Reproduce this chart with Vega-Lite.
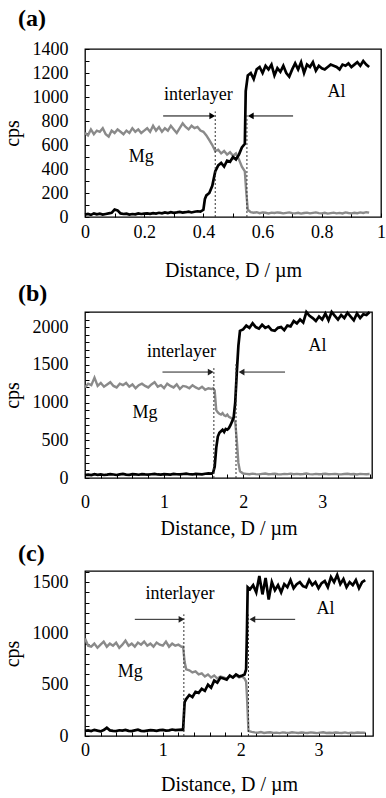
{
  "$schema": "https://vega.github.io/schema/vega-lite/v6.json",
  "background": "white",
  "padding": {"left": 1, "top": 6, "right": 0, "bottom": 0},
  "spacing": 0,
  "config": {
    "font": "Liberation Serif",
    "view": {"stroke": "black", "strokeWidth": 1.3},
    "axis": {
      "domain": false, "grid": false, "tickSize": -4, "tickColor": "black", "tickWidth": 1,
      "labelColor": "black", "labelFont": "Liberation Serif", "labelFontSize": 18,
      "titleFont": "Liberation Serif", "titleFontSize": 20, "titleFontWeight": "normal", "titleColor": "black",
      "labelOverlap": false, "labelSeparation": -100, "labelFlush": false, "labelPadding": 10
    },
    "axisQuantitative": {"labelOverlap": false, "labelSeparation": -100},
    "title": {"font": "Liberation Serif", "fontSize": 24, "fontWeight": "bold", "color": "black", "anchor": "start", "frame": "bounds"}
  },
  "datasets": {
    "aAl": [
      {"x":0,"y":20},{"x":0.01,"y":25},{"x":0.02,"y":18},{"x":0.03,"y":30},{"x":0.04,"y":22},{"x":0.05,"y":28},{"x":0.06,"y":20},{"x":0.07,"y":25},{"x":0.08,"y":30},{"x":0.09,"y":35},{"x":0.1,"y":62},{"x":0.11,"y":55},{"x":0.12,"y":30},{"x":0.13,"y":25},{"x":0.14,"y":28},{"x":0.15,"y":20},{"x":0.16,"y":25},{"x":0.17,"y":22},{"x":0.18,"y":30},{"x":0.19,"y":25},{"x":0.2,"y":28},{"x":0.21,"y":30},{"x":0.22,"y":26},{"x":0.23,"y":32},{"x":0.24,"y":28},{"x":0.25,"y":35},{"x":0.26,"y":30},{"x":0.27,"y":38},{"x":0.28,"y":33},{"x":0.29,"y":40},{"x":0.3,"y":35},{"x":0.31,"y":38},{"x":0.32,"y":42},{"x":0.33,"y":36},{"x":0.34,"y":40},{"x":0.35,"y":45},{"x":0.36,"y":38},{"x":0.37,"y":44},{"x":0.38,"y":48},{"x":0.39,"y":45},{"x":0.4,"y":60},{"x":0.405,"y":150},{"x":0.41,"y":180},{"x":0.42,"y":200},{"x":0.43,"y":260},{"x":0.44,"y":380},{"x":0.45,"y":430},{"x":0.46,"y":450},{"x":0.47,"y":420},{"x":0.48,"y":470},{"x":0.49,"y":460},{"x":0.5,"y":500},{"x":0.51,"y":480},{"x":0.52,"y":520},{"x":0.53,"y":580},{"x":0.54,"y":610},{"x":0.543,"y":1050},{"x":0.55,"y":1180},{"x":0.56,"y":1200},{"x":0.57,"y":1150},{"x":0.58,"y":1230},{"x":0.59,"y":1250},{"x":0.6,"y":1200},{"x":0.61,"y":1260},{"x":0.62,"y":1230},{"x":0.63,"y":1270},{"x":0.64,"y":1180},{"x":0.65,"y":1240},{"x":0.66,"y":1210},{"x":0.67,"y":1260},{"x":0.68,"y":1200},{"x":0.69,"y":1170},{"x":0.7,"y":1230},{"x":0.71,"y":1280},{"x":0.72,"y":1230},{"x":0.73,"y":1290},{"x":0.74,"y":1200},{"x":0.75,"y":1270},{"x":0.76,"y":1250},{"x":0.77,"y":1290},{"x":0.78,"y":1220},{"x":0.79,"y":1260},{"x":0.8,"y":1240},{"x":0.81,"y":1230},{"x":0.82,"y":1250},{"x":0.83,"y":1270},{"x":0.84,"y":1260},{"x":0.85,"y":1250},{"x":0.86,"y":1230},{"x":0.87,"y":1270},{"x":0.88,"y":1260},{"x":0.89,"y":1280},{"x":0.9,"y":1250},{"x":0.91,"y":1270},{"x":0.92,"y":1290},{"x":0.93,"y":1260},{"x":0.94,"y":1300},{"x":0.95,"y":1270},{"x":0.96,"y":1250}
    ],
    "aMg": [
      {"x":0,"y":700},{"x":0.01,"y":680},{"x":0.02,"y":730},{"x":0.03,"y":690},{"x":0.04,"y":720},{"x":0.05,"y":710},{"x":0.06,"y":740},{"x":0.07,"y":690},{"x":0.08,"y":670},{"x":0.09,"y":720},{"x":0.1,"y":700},{"x":0.11,"y":730},{"x":0.12,"y":710},{"x":0.13,"y":690},{"x":0.14,"y":720},{"x":0.15,"y":700},{"x":0.16,"y":740},{"x":0.17,"y":710},{"x":0.18,"y":730},{"x":0.19,"y":700},{"x":0.2,"y":720},{"x":0.21,"y":740},{"x":0.22,"y":710},{"x":0.23,"y":760},{"x":0.24,"y":720},{"x":0.25,"y":750},{"x":0.26,"y":710},{"x":0.27,"y":740},{"x":0.28,"y":720},{"x":0.29,"y":760},{"x":0.3,"y":730},{"x":0.31,"y":700},{"x":0.32,"y":740},{"x":0.33,"y":780},{"x":0.34,"y":750},{"x":0.35,"y":730},{"x":0.36,"y":760},{"x":0.37,"y":740},{"x":0.38,"y":750},{"x":0.39,"y":720},{"x":0.4,"y":710},{"x":0.41,"y":680},{"x":0.42,"y":640},{"x":0.43,"y":600},{"x":0.44,"y":550},{"x":0.45,"y":560},{"x":0.46,"y":530},{"x":0.47,"y":550},{"x":0.48,"y":520},{"x":0.49,"y":540},{"x":0.5,"y":510},{"x":0.51,"y":530},{"x":0.52,"y":480},{"x":0.53,"y":420},{"x":0.54,"y":380},{"x":0.545,"y":200},{"x":0.55,"y":60},{"x":0.56,"y":40},{"x":0.57,"y":35},{"x":0.58,"y":40},{"x":0.59,"y":32},{"x":0.6,"y":38},{"x":0.61,"y":35},{"x":0.62,"y":30},{"x":0.63,"y":36},{"x":0.64,"y":33},{"x":0.65,"y":38},{"x":0.66,"y":35},{"x":0.67,"y":30},{"x":0.68,"y":34},{"x":0.69,"y":38},{"x":0.7,"y":32},{"x":0.71,"y":30},{"x":0.72,"y":35},{"x":0.73,"y":28},{"x":0.74,"y":33},{"x":0.75,"y":36},{"x":0.76,"y":30},{"x":0.77,"y":34},{"x":0.78,"y":38},{"x":0.79,"y":32},{"x":0.8,"y":30},{"x":0.81,"y":35},{"x":0.82,"y":28},{"x":0.83,"y":32},{"x":0.84,"y":36},{"x":0.85,"y":30},{"x":0.86,"y":34},{"x":0.87,"y":30},{"x":0.88,"y":38},{"x":0.89,"y":33},{"x":0.9,"y":30},{"x":0.91,"y":35},{"x":0.92,"y":32},{"x":0.93,"y":38},{"x":0.94,"y":34},{"x":0.95,"y":40},{"x":0.96,"y":36}
    ],
    "bAl": [
      {"x":0,"y":40},{"x":0.04,"y":45},{"x":0.08,"y":38},{"x":0.12,"y":50},{"x":0.16,"y":42},{"x":0.2,"y":48},{"x":0.24,"y":40},{"x":0.28,"y":44},{"x":0.32,"y":52},{"x":0.36,"y":46},{"x":0.4,"y":40},{"x":0.44,"y":48},{"x":0.48,"y":55},{"x":0.52,"y":45},{"x":0.56,"y":42},{"x":0.6,"y":50},{"x":0.64,"y":47},{"x":0.68,"y":43},{"x":0.72,"y":52},{"x":0.76,"y":48},{"x":0.8,"y":45},{"x":0.84,"y":50},{"x":0.88,"y":55},{"x":0.92,"y":47},{"x":0.96,"y":44},{"x":1,"y":52},{"x":1.04,"y":49},{"x":1.08,"y":46},{"x":1.12,"y":54},{"x":1.16,"y":50},{"x":1.2,"y":48},{"x":1.24,"y":53},{"x":1.28,"y":57},{"x":1.32,"y":50},{"x":1.36,"y":47},{"x":1.4,"y":55},{"x":1.44,"y":52},{"x":1.48,"y":49},{"x":1.52,"y":56},{"x":1.56,"y":60},{"x":1.6,"y":58},
      {"x":1.62,"y":70},{"x":1.64,"y":150},{"x":1.66,"y":400},{"x":1.68,"y":550},{"x":1.7,"y":600},{"x":1.72,"y":620},{"x":1.74,"y":640},{"x":1.76,"y":610},{"x":1.78,"y":650},{"x":1.8,"y":640},{"x":1.82,"y":660},{"x":1.84,"y":700},{"x":1.86,"y":750},{"x":1.88,"y":800},{"x":1.9,"y":1000},{"x":1.92,"y":1400},{"x":1.94,"y":1750},{"x":1.96,"y":1950},{"x":2,"y":1970},{"x":2.04,"y":2020},{"x":2.08,"y":1990},{"x":2.12,"y":2050},{"x":2.16,"y":2000},{"x":2.2,"y":1980},{"x":2.24,"y":2030},{"x":2.28,"y":1990},{"x":2.32,"y":2010},{"x":2.36,"y":1960},{"x":2.4,"y":1950},{"x":2.44,"y":1990},{"x":2.48,"y":2000},{"x":2.52,"y":1960},{"x":2.56,"y":2020},{"x":2.6,"y":2010},{"x":2.64,"y":2080},{"x":2.68,"y":2050},{"x":2.72,"y":2100},{"x":2.76,"y":2060},{"x":2.8,"y":2200},{"x":2.84,"y":2150},{"x":2.88,"y":2120},{"x":2.92,"y":2080},{"x":2.96,"y":2140},{"x":3,"y":2100},{"x":3.04,"y":2180},{"x":3.08,"y":2090},{"x":3.12,"y":2200},{"x":3.16,"y":2150},{"x":3.2,"y":2100},{"x":3.24,"y":2160},{"x":3.28,"y":2120},{"x":3.32,"y":2190},{"x":3.36,"y":2140},{"x":3.4,"y":2090},{"x":3.44,"y":2180},{"x":3.48,"y":2120},{"x":3.52,"y":2170},{"x":3.56,"y":2160},{"x":3.6,"y":2200}
    ],
    "bMg": [
      {"x":0,"y":1200},{"x":0.04,"y":1250},{"x":0.08,"y":1230},{"x":0.12,"y":1330},{"x":0.16,"y":1220},{"x":0.2,"y":1260},{"x":0.24,"y":1210},{"x":0.28,"y":1240},{"x":0.32,"y":1270},{"x":0.36,"y":1220},{"x":0.4,"y":1200},{"x":0.44,"y":1250},{"x":0.48,"y":1230},{"x":0.52,"y":1260},{"x":0.56,"y":1210},{"x":0.6,"y":1240},{"x":0.64,"y":1190},{"x":0.68,"y":1230},{"x":0.72,"y":1250},{"x":0.76,"y":1220},{"x":0.8,"y":1200},{"x":0.84,"y":1240},{"x":0.88,"y":1270},{"x":0.92,"y":1210},{"x":0.96,"y":1230},{"x":1,"y":1190},{"x":1.04,"y":1250},{"x":1.08,"y":1220},{"x":1.12,"y":1200},{"x":1.16,"y":1240},{"x":1.2,"y":1180},{"x":1.24,"y":1220},{"x":1.28,"y":1210},{"x":1.32,"y":1190},{"x":1.36,"y":1230},{"x":1.4,"y":1200},{"x":1.44,"y":1180},{"x":1.48,"y":1210},{"x":1.52,"y":1170},{"x":1.56,"y":1190},{"x":1.6,"y":1180},
      {"x":1.62,"y":1190},{"x":1.64,"y":1160},{"x":1.66,"y":900},{"x":1.68,"y":870},{"x":1.7,"y":850},{"x":1.72,"y":840},{"x":1.74,"y":860},{"x":1.76,"y":830},{"x":1.78,"y":820},{"x":1.8,"y":840},{"x":1.82,"y":810},{"x":1.84,"y":800},{"x":1.86,"y":790},{"x":1.88,"y":770},{"x":1.9,"y":740},{"x":1.92,"y":500},{"x":1.94,"y":200},{"x":1.96,"y":90},{"x":2,"y":60},
      {"x":2.04,"y":55},{"x":2.08,"y":50},{"x":2.12,"y":58},{"x":2.16,"y":52},{"x":2.2,"y":48},{"x":2.24,"y":55},{"x":2.28,"y":60},{"x":2.32,"y":50},{"x":2.36,"y":53},{"x":2.4,"y":57},{"x":2.44,"y":50},{"x":2.48,"y":48},{"x":2.52,"y":55},{"x":2.56,"y":52},{"x":2.6,"y":58},{"x":2.64,"y":50},{"x":2.68,"y":54},{"x":2.72,"y":49},{"x":2.76,"y":53},{"x":2.8,"y":60},{"x":2.84,"y":52},{"x":2.88,"y":48},{"x":2.92,"y":55},{"x":2.96,"y":50},{"x":3,"y":53},{"x":3.04,"y":57},{"x":3.08,"y":49},{"x":3.12,"y":52},{"x":3.16,"y":55},{"x":3.2,"y":50},{"x":3.24,"y":48},{"x":3.28,"y":53},{"x":3.32,"y":56},{"x":3.36,"y":50},{"x":3.4,"y":52},{"x":3.44,"y":47},{"x":3.48,"y":55},{"x":3.52,"y":51},{"x":3.56,"y":49},{"x":3.6,"y":53}
    ],
    "cAl": [
      {"x":0,"y":50},{"x":0.04,"y":55},{"x":0.08,"y":48},{"x":0.12,"y":60},{"x":0.16,"y":52},{"x":0.2,"y":45},{"x":0.24,"y":58},{"x":0.28,"y":80},{"x":0.32,"y":55},{"x":0.36,"y":50},{"x":0.4,"y":48},{"x":0.44,"y":56},{"x":0.48,"y":52},{"x":0.52,"y":60},{"x":0.56,"y":50},{"x":0.6,"y":47},{"x":0.64,"y":55},{"x":0.68,"y":62},{"x":0.72,"y":50},{"x":0.76,"y":48},{"x":0.8,"y":53},{"x":0.84,"y":58},{"x":0.88,"y":55},{"x":0.92,"y":50},{"x":0.96,"y":57},{"x":1,"y":60},{"x":1.04,"y":52},{"x":1.08,"y":55},{"x":1.12,"y":63},{"x":1.16,"y":58},{"x":1.2,"y":60},{"x":1.24,"y":62},
      {"x":1.26,"y":60},{"x":1.28,"y":330},{"x":1.3,"y":360},{"x":1.34,"y":400},{"x":1.38,"y":380},{"x":1.42,"y":430},{"x":1.46,"y":420},{"x":1.5,"y":460},{"x":1.54,"y":440},{"x":1.58,"y":500},{"x":1.62,"y":470},{"x":1.66,"y":540},{"x":1.7,"y":520},{"x":1.74,"y":570},{"x":1.78,"y":560},{"x":1.82,"y":550},{"x":1.86,"y":590},{"x":1.9,"y":570},{"x":1.94,"y":600},{"x":1.98,"y":580},{"x":2.02,"y":590},{"x":2.05,"y":600},{"x":2.07,"y":650},{"x":2.08,"y":1000},{"x":2.09,"y":1450},
      {"x":2.12,"y":1430},{"x":2.16,"y":1470},{"x":2.2,"y":1400},{"x":2.24,"y":1560},{"x":2.28,"y":1380},{"x":2.32,"y":1540},{"x":2.36,"y":1330},{"x":2.4,"y":1500},{"x":2.44,"y":1420},{"x":2.48,"y":1470},{"x":2.52,"y":1400},{"x":2.56,"y":1480},{"x":2.6,"y":1450},{"x":2.64,"y":1520},{"x":2.68,"y":1440},{"x":2.72,"y":1480},{"x":2.76,"y":1500},{"x":2.8,"y":1460},{"x":2.84,"y":1450},{"x":2.88,"y":1520},{"x":2.92,"y":1470},{"x":2.96,"y":1500},{"x":3,"y":1440},{"x":3.04,"y":1490},{"x":3.08,"y":1510},{"x":3.12,"y":1450},{"x":3.16,"y":1550},{"x":3.2,"y":1500},{"x":3.24,"y":1570},{"x":3.28,"y":1480},{"x":3.32,"y":1530},{"x":3.36,"y":1450},{"x":3.4,"y":1500},{"x":3.44,"y":1470},{"x":3.48,"y":1520},{"x":3.52,"y":1440},{"x":3.56,"y":1500},{"x":3.6,"y":1520}
    ],
    "cMg": [
      {"x":0,"y":950},{"x":0.04,"y":880},{"x":0.08,"y":870},{"x":0.12,"y":900},{"x":0.16,"y":860},{"x":0.2,"y":890},{"x":0.24,"y":920},{"x":0.28,"y":870},{"x":0.32,"y":900},{"x":0.36,"y":880},{"x":0.4,"y":910},{"x":0.44,"y":860},{"x":0.48,"y":890},{"x":0.52,"y":930},{"x":0.56,"y":880},{"x":0.6,"y":900},{"x":0.64,"y":870},{"x":0.68,"y":910},{"x":0.72,"y":890},{"x":0.76,"y":920},{"x":0.8,"y":880},{"x":0.84,"y":900},{"x":0.88,"y":870},{"x":0.92,"y":910},{"x":0.96,"y":890},{"x":1,"y":880},{"x":1.04,"y":920},{"x":1.08,"y":870},{"x":1.12,"y":900},{"x":1.16,"y":880},{"x":1.2,"y":890},{"x":1.24,"y":870},
      {"x":1.26,"y":870},{"x":1.28,"y":720},{"x":1.3,"y":650},{"x":1.34,"y":640},{"x":1.38,"y":620},{"x":1.42,"y":630},{"x":1.46,"y":600},{"x":1.5,"y":610},{"x":1.54,"y":580},{"x":1.58,"y":600},{"x":1.62,"y":570},{"x":1.66,"y":590},{"x":1.7,"y":560},{"x":1.74,"y":580},{"x":1.78,"y":570},{"x":1.82,"y":560},{"x":1.86,"y":580},{"x":1.9,"y":570},{"x":1.94,"y":590},{"x":1.98,"y":570},{"x":2.02,"y":580},{"x":2.05,"y":560},{"x":2.07,"y":530},{"x":2.08,"y":400},{"x":2.1,"y":50},
      {"x":2.14,"y":40},{"x":2.18,"y":35},{"x":2.22,"y":32},{"x":2.26,"y":38},{"x":2.3,"y":30},{"x":2.34,"y":34},{"x":2.38,"y":36},{"x":2.42,"y":30},{"x":2.46,"y":33},{"x":2.5,"y":28},{"x":2.54,"y":35},{"x":2.58,"y":32},{"x":2.62,"y":30},{"x":2.66,"y":36},{"x":2.7,"y":33},{"x":2.74,"y":29},{"x":2.78,"y":34},{"x":2.82,"y":31},{"x":2.86,"y":30},{"x":2.9,"y":35},{"x":2.94,"y":32},{"x":2.98,"y":28},{"x":3.02,"y":33},{"x":3.06,"y":36},{"x":3.1,"y":30},{"x":3.14,"y":32},{"x":3.18,"y":29},{"x":3.22,"y":34},{"x":3.26,"y":31},{"x":3.3,"y":30},{"x":3.34,"y":35},{"x":3.38,"y":28},{"x":3.42,"y":32},{"x":3.46,"y":30},{"x":3.5,"y":34},{"x":3.54,"y":31},{"x":3.58,"y":33},{"x":3.6,"y":30}
    ],
    "aDash": [{"x":0.44,"y":0,"y2":880},{"x":0.547,"y":0,"y2":850}],
    "bDash": [{"x":1.63,"y":0,"y2":1457},{"x":1.91,"y":0,"y2":1510}],
    "cDash": [{"x":1.27,"y":0,"y2":1186},{"x":2.1,"y":0,"y2":1186}],
    "aArrow": [{"x":0.43,"xs":0.264,"y":842,"dir":"right"},{"x":0.56,"xs":0.703,"y":842,"dir":"left"}],
    "bArrow": [{"x":1.59,"xs":0.98,"y":1404,"dir":"right"},{"x":1.98,"xs":2.53,"y":1404,"dir":"left"}],
    "cArrow": [{"x":1.24,"xs":0.64,"y":1137,"dir":"right"},{"x":2.15,"xs":2.7,"y":1137,"dir":"left"}],
    "aText": [{"x":0.383,"y":1017,"t":"interlayer"},{"x":0.85,"y":1042,"t":"Al"},{"x":0.19,"y":500,"t":"Mg"}],
    "bText": [{"x":1.22,"y":1670,"t":"interlayer"},{"x":2.94,"y":1750,"t":"Al"},{"x":0.76,"y":862,"t":"Mg"}],
    "cText": [{"x":1.22,"y":1382,"t":"interlayer"},{"x":3.09,"y":1235,"t":"Al"},{"x":0.58,"y":627,"t":"Mg"}]
  },
  "vconcat": [
    {
      "width": 296, "height": 168,
      "title": {"text": "(a)", "offset": 9, "dx": 16},
      "encoding": {
        "x": {"field": "x", "type": "quantitative", "scale": {"domain": [0, 1], "nice": false},
              "axis": {"title": "Distance, D / µm", "titlePadding": 19, "labelOverlap": false, "labelSeparation": -100, "labelFlush": false, "values": [0,0.1,0.2,0.3,0.4,0.5,0.6,0.7,0.8,0.9,1], "labelExpr": "round(datum.value*10) % 2 == 0 ? format(datum.value, '~g') : ''"}},
        "y": {"field": "y", "type": "quantitative", "scale": {"domain": [0, 1400], "nice": false},
              "axis": {"title": "cps", "titlePadding": 10, "labelPadding": 21, "labelOverlap": false, "labelSeparation": -100, "values": [0,100,200,300,400,500,600,700,800,900,1000,1100,1200,1300,1400], "labelExpr": "datum.value % 200 == 0 ? format(datum.value, 'd') : ''"}}
      },
      "layer": [
        {"data": {"name": "aMg"}, "mark": {"type": "line", "color": "#8a8a8a", "strokeWidth": 2.4}},
        {"data": {"name": "aAl"}, "mark": {"type": "line", "color": "black", "strokeWidth": 2.7}},
        {"data": {"name": "aDash"}, "mark": {"type": "rule", "color": "#333", "strokeWidth": 1, "strokeDash": [2, 2]},
         "encoding": {"y2": {"field": "y2"}}},
        {"data": {"name": "aArrow"}, "mark": {"type": "rule", "color": "black", "strokeWidth": 1},
         "encoding": {"x2": {"field": "xs"}}},
        {"data": {"name": "aArrow"}, "mark": {"type": "point", "filled": true, "color": "black", "size": 45, "opacity": 1},
         "encoding": {"shape": {"field": "dir", "type": "nominal", "scale": {"domain": ["right", "left"], "range": ["triangle-right", "triangle-left"]}, "legend": null}}},
        {"data": {"name": "aText"}, "mark": {"type": "text", "fontSize": 18, "font": "Liberation Serif", "color": "black"},
         "encoding": {"text": {"field": "t"}}}
      ]
    },
    {
      "spacing": 2,
      "vconcat": [
        {
          "width": 287, "height": 166,
          "title": {"text": "(b)", "offset": -3, "dx": 16},
          "encoding": {
            "x": {"field": "x", "type": "quantitative", "scale": {"domain": [0, 3.63], "nice": false},
                  "axis": {"title": "Distance, D / µm", "titlePadding": 7, "labelPadding": 19, "labelOverlap": false, "labelSeparation": -100, "labelFlush": false, "values": [0,0.2,0.4,0.6,0.8,1,1.2,1.4,1.6,1.8,2,2.2,2.4,2.6,2.8,3,3.2,3.4,3.6], "labelExpr": "datum.value % 1 == 0 ? format(datum.value, '~g') : ''"}},
            "y": {"field": "y", "type": "quantitative", "scale": {"domain": [0, 2200], "nice": false},
                  "axis": {"title": "cps", "titlePadding": 10, "labelPadding": 21, "labelOverlap": false, "labelSeparation": -100, "values": [0,100,200,300,400,500,600,700,800,900,1000,1100,1200,1300,1400,1500,1600,1700,1800,1900,2000,2100,2200], "labelExpr": "datum.value % 500 == 0 ? format(datum.value, 'd') : ''"}}
          },
          "layer": [
            {"data": {"name": "bMg"}, "mark": {"type": "line", "color": "#8a8a8a", "strokeWidth": 2.4}},
            {"data": {"name": "bAl"}, "mark": {"type": "line", "color": "black", "strokeWidth": 2.7}},
            {"data": {"name": "bDash"}, "mark": {"type": "rule", "color": "#333", "strokeWidth": 1, "strokeDash": [2, 2]},
             "encoding": {"y2": {"field": "y2"}}},
            {"data": {"name": "bArrow"}, "mark": {"type": "rule", "color": "#222", "strokeWidth": 1},
             "encoding": {"x2": {"field": "xs"}}},
            {"data": {"name": "bArrow"}, "mark": {"type": "point", "filled": true, "color": "#222", "size": 45, "opacity": 1},
             "encoding": {"shape": {"field": "dir", "type": "nominal", "scale": {"domain": ["right", "left"], "range": ["triangle-right", "triangle-left"]}, "legend": null}}},
            {"data": {"name": "bText"}, "mark": {"type": "text", "fontSize": 18, "font": "Liberation Serif", "color": "black"},
             "encoding": {"text": {"field": "t"}}}
          ]
        },
        {
          "width": 288, "height": 165,
          "title": {"text": "(c)", "offset": -3, "dx": 16},
          "encoding": {
            "x": {"field": "x", "type": "quantitative", "scale": {"domain": [0, 3.7], "nice": false},
                  "axis": {"title": "Distance, D / µm", "titlePadding": 15, "labelPadding": 9, "labelOverlap": false, "labelSeparation": -100, "labelFlush": false, "values": [0,0.2,0.4,0.6,0.8,1,1.2,1.4,1.6,1.8,2,2.2,2.4,2.6,2.8,3,3.2,3.4,3.6], "labelExpr": "datum.value % 1 == 0 ? format(datum.value, '~g') : ''"}},
            "y": {"field": "y", "type": "quantitative", "scale": {"domain": [0, 1608], "nice": false},
                  "axis": {"title": "cps", "titlePadding": 10, "labelPadding": 21, "labelOverlap": false, "labelSeparation": -100, "values": [0,100,200,300,400,500,600,700,800,900,1000,1100,1200,1300,1400,1500,1600], "labelExpr": "datum.value % 500 == 0 ? format(datum.value, 'd') : ''"}}
          },
          "layer": [
            {"data": {"name": "cMg"}, "mark": {"type": "line", "color": "#8a8a8a", "strokeWidth": 2.4}},
            {"data": {"name": "cAl"}, "mark": {"type": "line", "color": "black", "strokeWidth": 2.7}},
            {"data": {"name": "cDash"}, "mark": {"type": "rule", "color": "#333", "strokeWidth": 1, "strokeDash": [2, 2]},
             "encoding": {"y2": {"field": "y2"}}},
            {"data": {"name": "cArrow"}, "mark": {"type": "rule", "color": "#222", "strokeWidth": 1},
             "encoding": {"x2": {"field": "xs"}}},
            {"data": {"name": "cArrow"}, "mark": {"type": "point", "filled": true, "color": "#222", "size": 45, "opacity": 1},
             "encoding": {"shape": {"field": "dir", "type": "nominal", "scale": {"domain": ["right", "left"], "range": ["triangle-right", "triangle-left"]}, "legend": null}}},
            {"data": {"name": "cText"}, "mark": {"type": "text", "fontSize": 18, "font": "Liberation Serif", "color": "black"},
             "encoding": {"text": {"field": "t"}}}
          ]
        }
      ]
    }
  ]
}
